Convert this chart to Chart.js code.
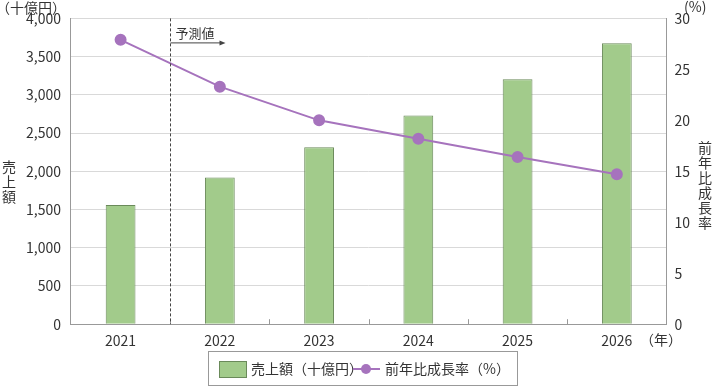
<!DOCTYPE html>
<html lang="ja">
<head>
<meta charset="utf-8">
<script src="https://cdn.jsdelivr.net/npm/chart.js@4.4.1/dist/chart.umd.min.js"></script>
<style>
  html, body { margin: 0; padding: 0; background: #fff; }
  #wrap { width: 713px; height: 386px; }
</style>
</head>
<body>
<div id="wrap"><canvas id="myChart" width="713" height="386"></canvas></div>
<script>
// datos
const years = ['2021', '2022', '2023', '2024', '2025', '2026'];
const sales = [1560, 1920, 2315, 2730, 3205, 3675];      // 売上額（十億円）
const growth = [27.9, 23.3, 20.0, 18.2, 16.4, 14.7];      // 前年比成長率（%）
const salesTicks = [0, 500, 1000, 1500, 2000, 2500, 3000, 3500, 4000];
const growthTicks = [0, 5, 10, 15, 20, 25, 30];

const FONT = '"Noto Sans CJK JP", "Noto Sans", sans-serif';
const GREEN = '#a2cb8b';
const GREEN_EDGE = '#6a8a5a';
const PURPLE = '#a673bd';
const TEXT = '#333333';

// anotaciones: línea de pronóstico, títulos de ejes, leyenda
const extras = {
    id: 'extras',
    afterDraw(chart) {
        const ctx = chart.ctx;
        const x = chart.scales.x;
        const area = chart.chartArea;
        ctx.save();

        // marcas pequeñas entre categorías (hacia arriba)
        ctx.strokeStyle = '#999';
        ctx.lineWidth = 1;
        for (let i = 1; i < years.length; i++) {
            const px = Math.round((x.getPixelForValue(i - 1) + x.getPixelForValue(i)) / 2) + 0.5;
            ctx.beginPath();
            ctx.moveTo(px, area.bottom);
            ctx.lineTo(px, area.bottom - 5);
            ctx.stroke();
        }

        // línea punteada de valores previstos
        const dx = Math.round((x.getPixelForValue(0) + x.getPixelForValue(1)) / 2) + 0.5;
        ctx.strokeStyle = '#444';
        ctx.setLineDash([3, 2]);
        ctx.beginPath();
        ctx.moveTo(dx, area.top);
        ctx.lineTo(dx, area.bottom);
        ctx.stroke();
        ctx.setLineDash([]);

        // 予測値 con flecha
        ctx.fillStyle = TEXT;
        ctx.font = '13px ' + FONT;
        ctx.textAlign = 'left';
        ctx.textBaseline = 'alphabetic';
        ctx.fillText('予測値', dx + 5, area.top + 20);
        ctx.strokeStyle = '#444';
        ctx.beginPath();
        ctx.moveTo(dx, area.top + 24.5);
        ctx.lineTo(dx + 50, area.top + 24.5);
        ctx.stroke();
        ctx.beginPath();
        ctx.moveTo(dx + 55, area.top + 24.5);
        ctx.lineTo(dx + 49, area.top + 22);
        ctx.lineTo(dx + 49, area.top + 27);
        ctx.closePath();
        ctx.fillStyle = '#444';
        ctx.fill();

        // unidades
        ctx.fillStyle = TEXT;
        ctx.font = '14px ' + FONT;
        ctx.textBaseline = 'middle';
        ctx.textAlign = 'left';
        ctx.fillText('（十億円）', -4, 8);
        ctx.fillText('(%)', 684, 7);
        ctx.fillText('（年）', 640, area.bottom + 15);

        // títulos verticales
        ctx.textAlign = 'center';
        const left = '売上額';
        for (let i = 0; i < left.length; i++) {
            ctx.fillText(left[i], 9, 167 + i * 15);
        }
        const right = '前年比成長率';
        for (let i = 0; i < right.length; i++) {
            ctx.fillText(right[i], 705, 148 + i * 15);
        }

        // leyenda con marco
        const lx = 208, ly = 351, lw = 309, lh = 34;
        ctx.strokeStyle = '#999';
        ctx.strokeRect(lx + 0.5, ly + 0.5, lw, lh);
        ctx.fillStyle = GREEN;
        ctx.fillRect(219, 361, 27, 16);
        ctx.strokeStyle = GREEN_EDGE;
        ctx.strokeRect(219.5, 361.5, 27, 16);
        ctx.fillStyle = TEXT;
        ctx.textAlign = 'left';
        ctx.font = '14px ' + FONT;
        ctx.fillText('売上額（十億円）', 251, 369);
        ctx.strokeStyle = PURPLE;
        ctx.lineWidth = 2;
        ctx.beginPath();
        ctx.moveTo(353, 369);
        ctx.lineTo(380, 369);
        ctx.stroke();
        ctx.fillStyle = PURPLE;
        ctx.beginPath();
        ctx.arc(366, 369, 5, 0, Math.PI * 2);
        ctx.fill();
        ctx.fillStyle = TEXT;
        ctx.fillText('前年比成長率（%）', 385, 369);

        ctx.restore();
    }
};

const config = {
    data: {
        labels: years,
        datasets: [
            {
                type: 'line',
                label: '前年比成長率（%）',
                data: growth,
                yAxisID: 'y1',
                borderColor: PURPLE,
                backgroundColor: PURPLE,
                borderWidth: 2,
                pointRadius: 5,
                pointHoverRadius: 5,
                tension: 0,
                order: 0
            },
            {
                type: 'bar',
                label: '売上額（十億円）',
                data: sales,
                yAxisID: 'y',
                backgroundColor: GREEN,
                borderColor: GREEN_EDGE,
                borderWidth: 1,
                barPercentage: 0.3,
                categoryPercentage: 1,
                order: 1
            }
        ]
    },
    options: {
        responsive: false,
        animation: false,
        layout: { padding: { top: 7, left: 16, right: 15, bottom: 37 } },
        plugins: {
            legend: { display: false },
            tooltip: { enabled: false }
        },
        scales: {
            x: {
                grid: { display: false },
                border: { color: '#999' },
                ticks: { color: TEXT, font: { family: FONT, size: 14 }, padding: 0 }
            },
            y: {
                position: 'left',
                min: 0,
                max: 4000,
                afterBuildTicks: axis => { axis.ticks = salesTicks.map(v => ({ value: v })); },
                border: { color: '#999' },
                grid: { color: '#d9d9d9', drawTicks: false },
                ticks: {
                    color: TEXT,
                    font: { family: FONT, size: 14 },
                    padding: 10,
                    callback: v => v.toLocaleString('en-US')
                }
            },
            y1: {
                position: 'right',
                min: 0,
                max: 30,
                afterBuildTicks: axis => { axis.ticks = growthTicks.map(v => ({ value: v })); },
                border: { color: '#999' },
                grid: { display: false, drawTicks: false },
                ticks: { color: TEXT, font: { family: FONT, size: 14 }, padding: 8 }
            }
        }
    },
    plugins: [extras]
};

new Chart(document.getElementById('myChart').getContext('2d'), config);
</script>
</body>
</html>
